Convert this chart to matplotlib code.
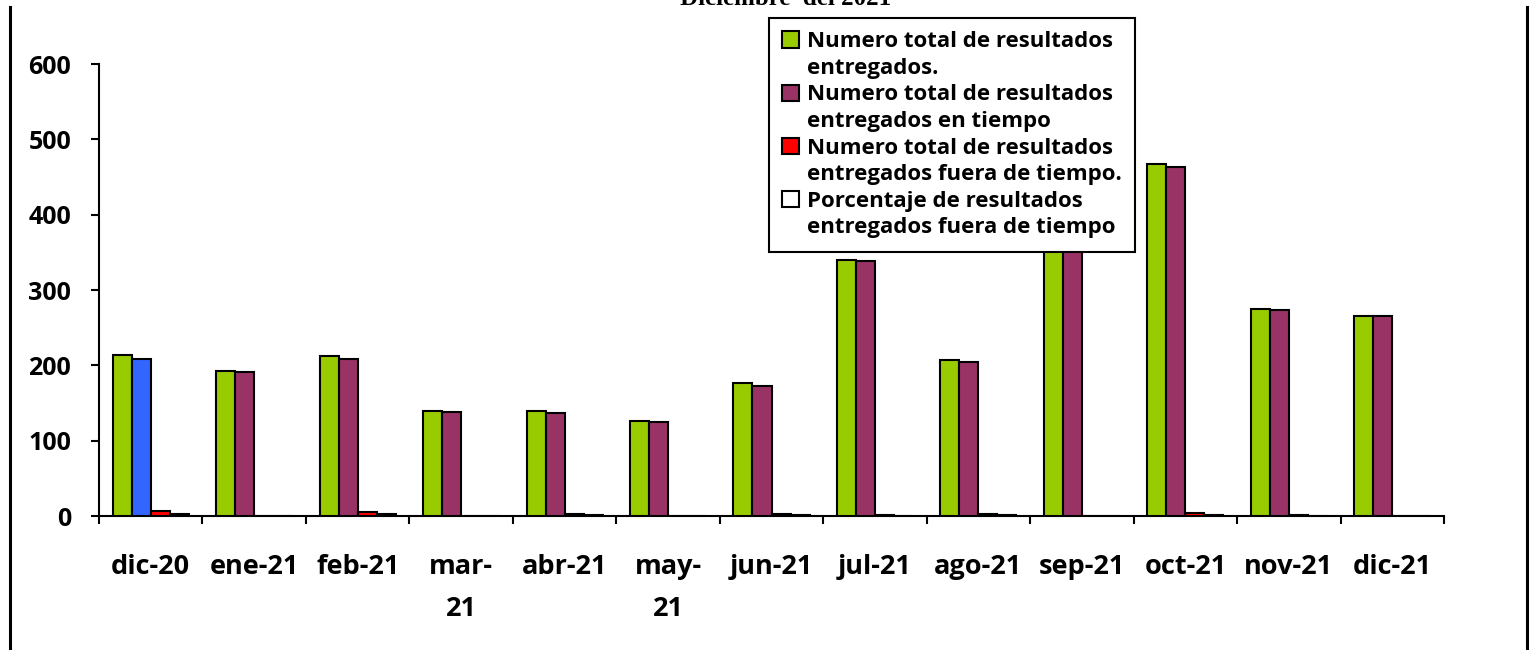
"""Bar chart: resultados entregados por mes."""
import matplotlib

matplotlib.use("Agg")
import matplotlib.pyplot as plt
from matplotlib.lines import Line2D
from matplotlib.patches import Patch
from matplotlib.ticker import FixedLocator

# data
months = ["dic-20", "ene-21", "feb-21", "mar-\n21", "abr-21", "may-\n21", "jun-21",
          "jul-21", "ago-21", "sep-21", "oct-21", "nov-21", "dic-21"]
total = [214, 192, 213, 139, 139, 126, 176, 340, 207, 372, 467, 275, 266]
en_tiempo = [208, 191, 208, 138, 137, 125, 173, 339, 204, 370, 463, 273, 265]
fuera_tiempo = [6, 0, 5, 0, 2, 0, 3, 1, 3, 0, 4, 1, 0]
porcentaje = [2.8, 0, 2.3, 0, 1.4, 0, 1.7, 0.3, 1.4, 0, 0.9, 0.4, 0]

labels = [
    ("Numero total de resultados", "entregados."),
    ("Numero total de resultados", "entregados en tiempo"),
    ("Numero total de resultados", "entregados fuera de tiempo."),
    ("Porcentaje de resultados", "entregados fuera de tiempo"),
]
colors = ["#99CC00", "#993366", "#FF0000", "#FFFFFF"]

plt.rcParams["font.family"] = ["Open Sans", "DejaVu Sans"]
plt.rcParams["font.weight"] = "bold"

W, H = 1535, 650
fig = plt.figure(figsize=(W / 100, H / 100), dpi=100)
ax = fig.add_axes([99 / W, (H - 516) / H, (1444 - 99) / W, (516 - 64) / H])

x = list(range(len(months)))
bw = 0.184
series = [total, en_tiempo, fuera_tiempo, porcentaje]
for k, vals in enumerate(series):
    off = (k - 1.5) * bw
    bar_colors = [colors[k]] * len(vals)
    if k == 1:
        bar_colors[0] = "#3366FF"
    ax.bar([i + off for i in x], vals, bw, color=bar_colors,
           edgecolor="black", linewidth=1.5, zorder=3)

ax.set_xlim(-0.5, len(months) - 0.5)
ax.set_ylim(0, 600)
ax.set_yticks(range(0, 601, 100))
ax.spines["top"].set_visible(False)
ax.spines["right"].set_visible(False)
ax.spines["left"].set_linewidth(1.5)
ax.spines["bottom"].set_linewidth(1.5)

ax.set_xticks(x)
ax.set_xticklabels(months, fontsize=19.5, fontweight="bold", linespacing=1.8)
ax.xaxis.set_minor_locator(FixedLocator([i - 0.5 for i in range(len(months) + 1)]))
ax.tick_params(axis="x", which="major", length=0, pad=27)
ax.tick_params(axis="x", which="minor", length=6, width=1.5, direction="out")
ax.tick_params(axis="y", length=6, width=1.5, pad=14, labelsize=18)
for t in ax.get_yticklabels():
    t.set_fontweight("bold")

# legend: one row per text line, colour box on the first line of each entry
handles, texts = [], []
for c, (l1, l2) in zip(colors, labels):
    handles.append(Patch(facecolor=c, edgecolor="black", linewidth=1.5))
    texts.append(l1)
    handles.append(Patch(facecolor="none", edgecolor="none"))
    texts.append(l2)
leg = fig.legend(handles, texts, loc="upper left",
                 bbox_to_anchor=(769 / W, 1 - 18 / H), bbox_transform=fig.transFigure,
                 fontsize=16, frameon=True, fancybox=False, framealpha=1,
                 handlelength=0.75, handleheight=0.75, handletextpad=0.35,
                 labelspacing=0.25, borderpad=0.6, borderaxespad=0)
leg.get_frame().set_edgecolor("black")
leg.get_frame().set_linewidth(1.5)
for t in leg.get_texts():
    t.set_fontweight("bold")

# title partly cut at top of image
fig.text(786 / W, 1 - 5 / H, "Diciembre  del 2021", ha="center", va="baseline",
         fontsize=18, fontweight="bold", family="Liberation Serif")

# chart area border lines
fig.add_artist(Line2D([10 / W, 10 / W], [0, 1 - 7 / H], color="black", lw=2.2))
fig.add_artist(Line2D([1527 / W, 1527 / W], [0, 1 - 7 / H], color="black", lw=2.2))

plt.savefig("out.png", dpi=100)
